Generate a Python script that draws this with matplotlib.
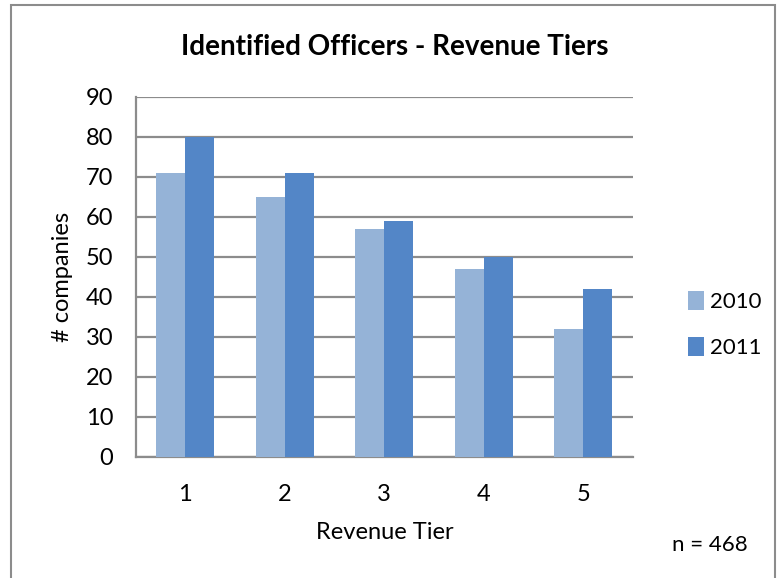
import numpy as np
import matplotlib.pyplot as plt
from matplotlib.patches import Rectangle

plt.rcParams['font.family'] = ['Lato', 'DejaVu Sans']

tiers = ["1", "2", "3", "4", "5"]
years = ["2010", "2011"]
counts_2010 = [71, 65, 57, 47, 32]
counts_2011 = [80, 71, 59, 50, 42]

fig = plt.figure(figsize=(7.77, 5.78), dpi=100)
ax = fig.add_axes([0.1744, 0.2099, 0.6403, 0.6228])

x = np.arange(len(tiers))
w = 0.29
ax.bar(x - w / 2, counts_2010, w, color="#95B3D7", label=years[0], zorder=3)
ax.bar(x + w / 2, counts_2011, w, color="#5386C7", label=years[1], zorder=3)

ax.set_xlim(-0.5, len(tiers) - 0.5)
ax.set_ylim(0, 90)
ax.set_yticks(range(0, 91, 10))
ax.set_xticks(x)
ax.set_xticklabels(tiers)
ax.tick_params(length=0, labelsize=17)
ax.tick_params(axis='y', pad=16)
ax.tick_params(axis='x', pad=20)
ax.grid(axis='y', color="#8C8C8C", linewidth=1.6, zorder=0)

for s in ["top", "right"]:
    ax.spines[s].set_visible(False)
for s in ["left", "bottom"]:
    ax.spines[s].set_color("#8C8C8C")
    ax.spines[s].set_linewidth(1.6)

ax.set_xlabel("Revenue Tier", fontsize=17, va="center")
ax.xaxis.set_label_coords(0.5015, -0.212)
ax.set_ylabel("# companies", fontsize=17, va="center")
ax.yaxis.set_label_coords(-0.1477, 0.498)

fig.text(395 / 777, 1 - 47 / 578, "Identified Officers - Revenue Tiers",
         ha="center", va="center", fontsize=20, fontweight="bold")

ax.legend(loc="center left", bbox_to_anchor=(677 / 777, 1 - 324.5 / 578),
          bbox_transform=fig.transFigure, frameon=False, fontsize=16,
          borderpad=0, handlelength=0.7, handleheight=0.95,
          labelspacing=1.15, handletextpad=0.3)

fig.text(709.5 / 777, 1 - 545 / 578, "n = 468", ha="center", va="center",
         fontsize=16)

fig.patches.append(Rectangle((11 / 777, -0.01), 764 / 777, 1 - 5 / 578 + 0.01,
                             transform=fig.transFigure, fill=False,
                             edgecolor="#8C8C8C", linewidth=1.5))

fig.savefig("out.png", dpi=100)
